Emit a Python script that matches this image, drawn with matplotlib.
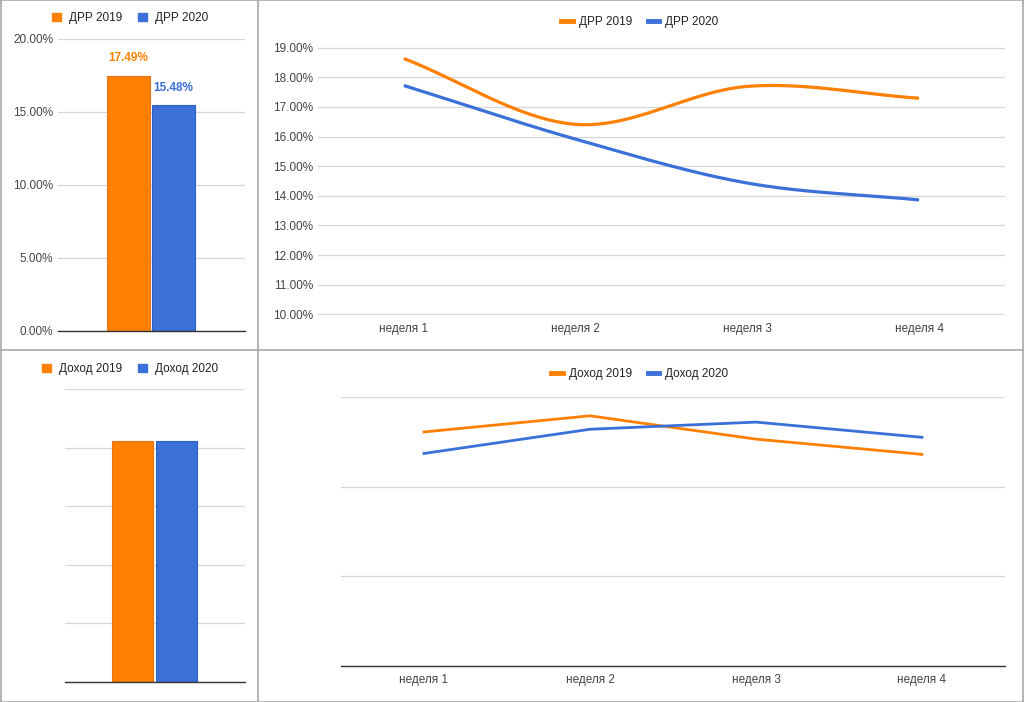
import numpy as np
import matplotlib
matplotlib.use('Agg')
import matplotlib.pyplot as plt
from matplotlib.lines import Line2D
from matplotlib.patches import Patch
from matplotlib.ticker import FuncFormatter

# data
weeks = ['неделя 1', 'неделя 2', 'неделя 3', 'неделя 4']
drr_names = ['ДРР 2019', 'ДРР 2020']
drr_2019 = [18.63, 16.41, 17.69, 17.29]   # %
drr_2020 = [17.72, 15.91, 14.43, 13.86]   # %
drr_avg = [17.49, 15.48]                   # %
income_names = ['Доход 2019', 'Доход 2020']
income_2019 = [2.61, 2.79, 2.53, 2.36]     # млн
income_2020 = [2.37, 2.64, 2.72, 2.55]     # млн

ORANGE = '#ff8000'
BLUE = '#3a70d8'
GRID = '#d6d6d6'
TICK = '#444444'

plt.rcParams['font.family'] = ['Liberation Sans', 'DejaVu Sans']


def smooth(y, n=50):
    # cubic hermite (catmull-rom style) curve through the points
    y = np.asarray(y, float)
    m = np.gradient(y)
    xs, ys = [], []
    for i in range(len(y) - 1):
        t = np.linspace(0, 1, n)
        h00 = 2*t**3 - 3*t**2 + 1
        h10 = t**3 - 2*t**2 + t
        h01 = -2*t**3 + 3*t**2
        h11 = t**3 - t**2
        xs.append(i + t)
        ys.append(h00*y[i] + h10*m[i] + h01*y[i+1] + h11*m[i+1])
    return np.concatenate(xs), np.concatenate(ys)


def style_axes(ax, baseline=True):
    for s in ['top', 'right', 'left']:
        ax.spines[s].set_visible(False)
    if baseline:
        ax.spines['bottom'].set_color('#333333')
        ax.spines['bottom'].set_linewidth(1.0)
    else:
        ax.spines['bottom'].set_visible(False)
    ax.yaxis.grid(True, color=GRID, linewidth=0.9)
    ax.set_axisbelow(True)
    ax.tick_params(length=0, colors=TICK, labelsize=8.5)


fig = plt.figure(figsize=(10.24, 7.02), dpi=100)
pct = FuncFormatter(lambda v, p: f'{v:.2f}%')

# --- top left: average ДРР bars
ax1 = fig.add_axes([0.0566, 0.5285, 0.1826, 0.416])
pos = [0.377, 0.618]
ax1.bar(pos, drr_avg, width=0.232, color=[ORANGE, BLUE],
        edgecolor=['#e8731a', '#2f5fc4'], linewidth=0.8)
for x, v, c in zip(pos, drr_avg, [ORANGE, BLUE]):
    ax1.annotate(f'{v:.2f}%', (x, v), xytext=(0, 8), textcoords='offset points',
                 ha='center', va='bottom', color=c, fontsize=8.5, fontweight='bold')
ax1.set_xlim(0, 1)
ax1.set_ylim(0, 20)
ax1.set_yticks([0, 5, 10, 15, 20])
ax1.yaxis.set_major_formatter(pct)
ax1.set_xticks([])
style_axes(ax1)
fig.legend(handles=[Patch(color=ORANGE, label=drr_names[0]),
                    Patch(color=BLUE, label=drr_names[1])],
           loc='center', bbox_to_anchor=(0.127, 0.974), ncol=2, frameon=False,
           fontsize=8.5, handlelength=0.75, handleheight=0.75, handletextpad=0.7,
           columnspacing=1.3, labelcolor='#222222')

# --- top right: weekly ДРР
ax2 = fig.add_axes([0.3105, 0.5513, 0.6709, 0.3818])
for vals, c in [(drr_2019, ORANGE), (drr_2020, BLUE)]:
    xs, ys = smooth(vals)
    ax2.plot(xs, ys, color=c, linewidth=2.3, solid_capstyle='butt')
ax2.set_xlim(-0.5, 3.5)
ax2.set_ylim(9.98, 19.02)
ax2.set_yticks(np.arange(10, 20, 1))
ax2.yaxis.set_major_formatter(pct)
ax2.set_xticks(range(len(weeks)))
ax2.set_xticklabels(weeks)
style_axes(ax2, baseline=False)
ax2.tick_params(axis='x', pad=6)
fig.legend(handles=[Line2D([], [], color=ORANGE, lw=3.5, label=drr_names[0]),
                    Line2D([], [], color=BLUE, lw=3.5, label=drr_names[1])],
           loc='center', bbox_to_anchor=(0.625, 0.9687), ncol=2, frameon=False,
           fontsize=8.5, handlelength=1.0, handletextpad=0.5,
           columnspacing=1.3, labelcolor='#222222')

# --- bottom left: total income bars
ax3 = fig.add_axes([0.0635, 0.0285, 0.1758, 0.4174])
totals = [sum(income_2019), sum(income_2020)]
ax3.bar(pos, totals, width=0.228, color=[ORANGE, BLUE],
        edgecolor=['#e8731a', '#2f5fc4'], linewidth=0.8)
ax3.set_xlim(0, 1)
ax3.set_ylim(0, 12.5)
ax3.set_yticks(np.arange(0, 12.6, 2.5))
ax3.set_yticklabels([])
ax3.set_xticks([])
style_axes(ax3)
fig.legend(handles=[Patch(color=ORANGE, label=income_names[0]),
                    Patch(color=BLUE, label=income_names[1])],
           loc='center', bbox_to_anchor=(0.127, 0.474), ncol=2, frameon=False,
           fontsize=8.5, handlelength=0.75, handleheight=0.75, handletextpad=0.7,
           columnspacing=1.3, labelcolor='#222222')

# --- bottom right: weekly income
ax4 = fig.add_axes([0.333, 0.0513, 0.6484, 0.3832])
x = np.arange(len(weeks))
ax4.plot(x, income_2019, color=ORANGE, linewidth=2.0)
ax4.plot(x, income_2020, color=BLUE, linewidth=2.0)
ax4.set_xlim(-0.5, 3.5)
ax4.set_ylim(0, 3)
ax4.set_yticks([0, 1, 2, 3])
ax4.set_yticklabels([])
ax4.set_xticks(x)
ax4.set_xticklabels(weeks)
style_axes(ax4)
ax4.tick_params(axis='x', pad=6)
fig.legend(handles=[Line2D([], [], color=ORANGE, lw=3.5, label=income_names[0]),
                    Line2D([], [], color=BLUE, lw=3.5, label=income_names[1])],
           loc='center', bbox_to_anchor=(0.625, 0.467), ncol=2, frameon=False,
           fontsize=8.5, handlelength=1.0, handletextpad=0.5,
           columnspacing=1.3, labelcolor='#222222')

# panel borders
border = dict(color='#a8a8a8', linewidth=1.2, transform=fig.transFigure)
fig.add_artist(Line2D([258/1024, 258/1024], [0, 1], **border))
fig.add_artist(Line2D([0, 1], [1 - 350/702, 1 - 350/702], **border))
for xs_, ys_ in [([0.0005, 0.0005], [0, 1]), ([0.9995, 0.9995], [0, 1]),
                 ([0, 1], [0.0007, 0.0007]), ([0, 1], [0.9993, 0.9993])]:
    fig.add_artist(Line2D(xs_, ys_, **border))

fig.savefig('out.png', dpi=100)
